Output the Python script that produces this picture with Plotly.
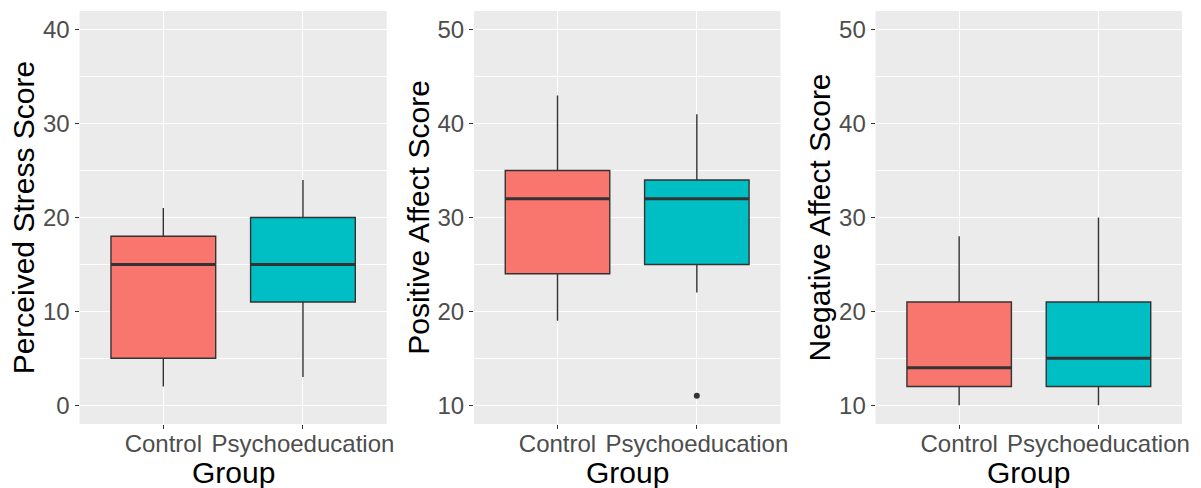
import plotly.graph_objects as go

# ---- data ----
groups = ["Control", "Psychoeducation"]
colors = ["#F8766D", "#00BFC4"]

stress_low = [2, 3]
stress_q1 = [5, 11]
stress_med = [15, 15]
stress_q3 = [18, 20]
stress_high = [21, 24]
stress_outliers = [[], []]

pos_low = [19, 22]
pos_q1 = [24, 25]
pos_med = [32, 32]
pos_q3 = [35, 34]
pos_high = [43, 41]
pos_outliers = [[], [11]]

neg_low = [10, 10]
neg_q1 = [12, 12]
neg_med = [14, 15]
neg_q3 = [21, 21]
neg_high = [28, 30]
neg_outliers = [[], []]

panels = [
    dict(title="Perceived Stress Score", low=stress_low, q1=stress_q1, med=stress_med,
         q3=stress_q3, high=stress_high, out=stress_outliers, yrange=[-2, 42],
         ticks=[0, 10, 20, 30, 40]),
    dict(title="Positive Affect Score", low=pos_low, q1=pos_q1, med=pos_med,
         q3=pos_q3, high=pos_high, out=pos_outliers, yrange=[8, 52],
         ticks=[10, 20, 30, 40, 50]),
    dict(title="Negative Affect Score", low=neg_low, q1=neg_q1, med=neg_med,
         q3=neg_q3, high=neg_high, out=neg_outliers, yrange=[8, 52],
         ticks=[10, 20, 30, 40, 50]),
]

W, H = 1201, 488
xdoms = [(80 / W, 389 / W), (476.7 / W, 785 / W), (880.7 / W, 1189 / W)]
ydom = (64 / H, 477 / H)
box_w = 0.75
FONT = "Liberation Sans, Arial, sans-serif"

fig = go.Figure()
annotations = []
for i, p in enumerate(panels):
    xa = "x" if i == 0 else f"x{i+1}"
    ya = "y" if i == 0 else f"y{i+1}"
    for j, g in enumerate(groups):
        xpos = j + 1
        fig.add_trace(go.Box(
            x=[xpos], q1=[p["q1"][j]], median=[p["med"][j]], q3=[p["q3"][j]],
            lowerfence=[p["low"][j]], upperfence=[p["high"][j]],
            width=box_w, whiskerwidth=0, fillcolor=colors[j],
            line=dict(color="#333333", width=1.4), boxpoints=False,
            xaxis=xa, yaxis=ya, showlegend=False, hoverinfo="skip",
        ))
        # thick median line (ggplot style)
        fig.add_trace(go.Scatter(
            x=[xpos - box_w / 2, xpos + box_w / 2], y=[p["med"][j]] * 2,
            mode="lines", line=dict(color="#333333", width=3),
            xaxis=xa, yaxis=ya, showlegend=False, hoverinfo="skip",
        ))
        if p["out"][j]:
            fig.add_trace(go.Scatter(
                x=[xpos] * len(p["out"][j]), y=p["out"][j], mode="markers",
                marker=dict(color="#333333", size=6),
                xaxis=xa, yaxis=ya, showlegend=False, hoverinfo="skip",
            ))
    axis_common = dict(
        showline=False, zeroline=False, gridcolor="white", gridwidth=1.3,
        ticks="outside", ticklen=4, tickwidth=1.1, tickcolor="#333333",
        tickfont=dict(family=FONT, size=24, color="#4D4D4D"),
    )
    xkey = "xaxis" if i == 0 else f"xaxis{i+1}"
    ykey = "yaxis" if i == 0 else f"yaxis{i+1}"
    fig.layout[xkey] = dict(
        domain=list(xdoms[i]), anchor=ya, range=[0.4, 2.6],
        tickvals=[1, 2], ticktext=groups, showgrid=True,
        ticklabelstandoff=-6, **axis_common,
    )
    fig.layout[ykey] = dict(
        domain=list(ydom), anchor=xa, range=p["yrange"],
        tickvals=p["ticks"], showgrid=True,
        minor=dict(dtick=5, tick0=0, showgrid=True, gridcolor="white", gridwidth=0.6, ticks=""),
        **axis_common,
    )
    x0, x1 = xdoms[i]
    annotations.append(dict(
        text="Group", x=(x0 + x1) / 2, y=15.5 / H, xref="paper", yref="paper",
        xanchor="center", yanchor="middle", showarrow=False, borderpad=0,
        font=dict(family=FONT, size=30, color="black"),
    ))
    annotations.append(dict(
        text=p["title"], x=(x0 * W - 56) / W, y=(ydom[0] + ydom[1]) / 2,
        xref="paper", yref="paper", xanchor="center", yanchor="middle",
        textangle=-90, showarrow=False,
        font=dict(family=FONT, size=30, color="black"),
    ))

fig.update_layout(
    width=W, height=H, margin=dict(l=0, r=0, t=0, b=0),
    paper_bgcolor="white", plot_bgcolor="#EBEBEB",
    annotations=annotations, showlegend=False,
)
fig.write_html("out.html")
